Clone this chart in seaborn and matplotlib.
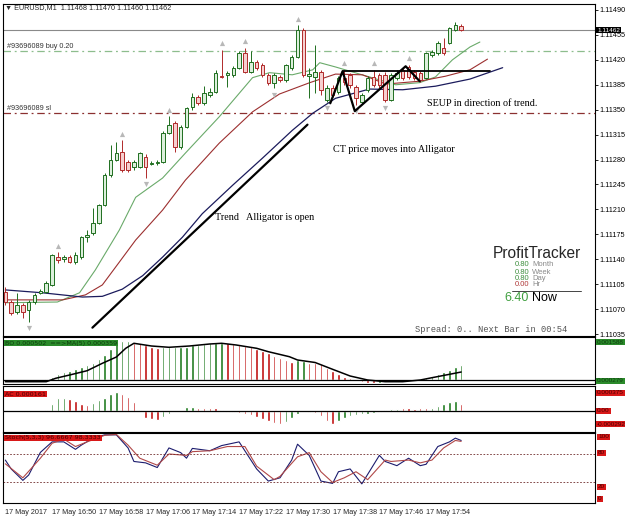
import matplotlib
matplotlib.use('Agg')
import matplotlib.pyplot as plt
import seaborn as sns
import numpy as np

# EURUSD M1 chart with Alligator, BO, AC and Stochastic panels (MT4 style)
sns.set_style('white')
plt.rcParams['font.family'] = ['DejaVu Sans']

# ---- candles, 17 May 2017 16:42 .. 18:00 ----
opens = [1.11094, 1.11080, 1.11066, 1.11076, 1.11069, 1.11080, 1.11093, 1.11094, 1.11104, 1.11143,
         1.11140, 1.11143, 1.11136, 1.11143, 1.11171, 1.11177, 1.11191, 1.11216, 1.11258, 1.11279,
         1.11291, 1.11277, 1.11270, 1.11270, 1.11284, 1.11274, 1.11275, 1.11277, 1.11317, 1.11331,
         1.11298, 1.11326, 1.11354, 1.11368, 1.11359, 1.11371, 1.11375, 1.11397, 1.11399, 1.11399,
         1.11409, 1.11430, 1.11403, 1.11417, 1.11413, 1.11399, 1.11388, 1.11396, 1.11392, 1.11409,
         1.11424, 1.11462, 1.11397, 1.11396, 1.11403, 1.11364, 1.11380, 1.11375, 1.11395, 1.11399,
         1.11382, 1.11361, 1.11378, 1.11396, 1.11399, 1.11399, 1.11364, 1.11395, 1.11406, 1.11410,
         1.11403, 1.11402, 1.11395, 1.11427, 1.11430, 1.11437, 1.11444, 1.11462, 1.11468]
closes = [1.11080, 1.11065, 1.11076, 1.11066, 1.11080, 1.11090, 1.11095, 1.11107, 1.11146, 1.11139,
          1.11143, 1.11136, 1.11146, 1.11171, 1.11174, 1.11191, 1.11216, 1.11258, 1.11279, 1.11289,
          1.11265, 1.11265, 1.11277, 1.11289, 1.11270, 1.11275, 1.11277, 1.11317, 1.11329, 1.11298,
          1.11326, 1.11352, 1.11368, 1.11359, 1.11373, 1.11375, 1.11402, 1.11396, 1.11402, 1.11409,
          1.11430, 1.11403, 1.11417, 1.11409, 1.11399, 1.11388, 1.11399, 1.11392, 1.11413, 1.11424,
          1.11462, 1.11399, 1.11400, 1.11403, 1.11378, 1.11380, 1.11371, 1.11395, 1.11389, 1.11385,
          1.11366, 1.11371, 1.11395, 1.11385, 1.11385, 1.11364, 1.11399, 1.11402, 1.11395, 1.11396,
          1.11395, 1.11392, 1.11430, 1.11431, 1.11444, 1.11430, 1.11465, 1.11469, 1.11462]
highs = [1.11101, 1.11083, 1.11093, 1.11079, 1.11083, 1.11093, 1.11098, 1.11110, 1.11147, 1.11150,
         1.11146, 1.11146, 1.11150, 1.11173, 1.11181, 1.11212, 1.11218, 1.11261, 1.11300, 1.11305,
         1.11307, 1.11279, 1.11279, 1.11291, 1.11288, 1.11278, 1.11279, 1.11320, 1.11341, 1.11334,
         1.11329, 1.11354, 1.11373, 1.11371, 1.11383, 1.11380, 1.11406, 1.11434, 1.11404, 1.11411,
         1.11432, 1.11437, 1.11432, 1.11420, 1.11416, 1.11402, 1.11402, 1.11399, 1.11414, 1.11427,
         1.11469, 1.11465, 1.11409, 1.11441, 1.11406, 1.11385, 1.11385, 1.11397, 1.11406, 1.11402,
         1.11385, 1.11373, 1.11397, 1.11406, 1.11402, 1.11403, 1.11402, 1.11406, 1.11409, 1.11413,
         1.11406, 1.11404, 1.11431, 1.11434, 1.11446, 1.11451, 1.11466, 1.11473, 1.11470]
lows = [1.11076, 1.11062, 1.11063, 1.11058, 1.11052, 1.11077, 1.11091, 1.11093, 1.11103, 1.11135,
        1.11136, 1.11135, 1.11133, 1.11141, 1.11164, 1.11174, 1.11190, 1.11215, 1.11255, 1.11278,
        1.11263, 1.11263, 1.11265, 1.11268, 1.11254, 1.11272, 1.11272, 1.11275, 1.11316, 1.11291,
        1.11295, 1.11324, 1.11350, 1.11357, 1.11357, 1.11368, 1.11373, 1.11395, 1.11382, 1.11396,
        1.11407, 1.11402, 1.11402, 1.11406, 1.11396, 1.11385, 1.11380, 1.11389, 1.11389, 1.11406,
        1.11423, 1.11396, 1.11366, 1.11373, 1.11371, 1.11361, 1.11368, 1.11372, 1.11385, 1.11380,
        1.11357, 1.11358, 1.11375, 1.11382, 1.11380, 1.11361, 1.11362, 1.11392, 1.11392, 1.11393,
        1.11392, 1.11389, 1.11393, 1.11424, 1.11427, 1.11427, 1.11442, 1.11461, 1.11460]

# Alligator lines (bar index, price)
jaw_x = [0, 6.3, 13.2, 16.6, 20.0, 23.5, 26.9, 30.3, 33.7, 38.9, 44.0, 49.1, 52.6, 56.5, 62.3, 68.0, 73.6, 79.5, 85.1]
jaw_y = [1.11097, 1.11093, 1.11087, 1.11088, 1.11098, 1.11117, 1.11143, 1.11171, 1.11204, 1.11244,
         1.11282, 1.11321, 1.11345, 1.11366, 1.11379, 1.11378, 1.11383, 1.11393, 1.11409]
teeth_x = [0, 9.8, 13.7, 16.6, 19.5, 22.3, 26.9, 30.8, 36.6, 42.3, 46.9, 52.1, 56.5, 61.1, 65.1, 70.9, 75.3, 79.5, 82.5]
teeth_y = [1.11083, 1.11083, 1.11090, 1.11104, 1.11136, 1.11167, 1.11209, 1.11251, 1.11303, 1.11347,
           1.11372, 1.11388, 1.11400, 1.11399, 1.11386, 1.11390, 1.11397, 1.11406, 1.11421]
lips_x = [0, 8.9, 12.7, 15.4, 19.5, 22.3, 26.9, 30.8, 36.6, 42.3, 45.2, 49.1, 52.6, 53.8, 56.5, 62.3,
          66.8, 70.9, 73.6, 76.5, 79.5, 81.2]
lips_y = [1.11079, 1.11080, 1.11093, 1.11125, 1.11181, 1.11227, 1.11254, 1.11289, 1.11340, 1.11395,
          1.11402, 1.11399, 1.11406, 1.11416, 1.11410, 1.11396, 1.11385, 1.11388, 1.11396, 1.11420,
          1.11438, 1.11445]

frac_up = [9, 20, 28, 37, 41, 50, 58, 63, 69]
frac_dn = [4, 24, 46, 55, 60, 65]

# hand-drawn objects
trend_x = [14.9, 51.7]
trend_y = [1.11044, 1.11329]
zig_x = [55.6, 57.7, 59.8, 68.5, 70.9]
zig_y = [1.11359, 1.11404, 1.11348, 1.11411, 1.11390]
range_x = [57.7, 82.9]
range_y = [1.11404, 1.11404]
bid_level = 1.11462
buy_level = 1.11432
sl_level = 1.11345
price_ticks = [1.11035, 1.11070, 1.11105, 1.11140, 1.11175, 1.11210, 1.11245, 1.11280,
               1.11315, 1.11350, 1.11385, 1.11420, 1.11455, 1.11490]

# BO histogram (x1e-6) and its MA(5)
bo_vals = [-84, -84, -84, -84, -84, -84, -42, 42, 138, 238, 322, 389, 447, 531, 627, 723, 865, 1045,
           1283, 1559, 1630, 1643, 1559, 1534, 1463, 1392, 1325, 1367, 1367, 1367, 1392, 1392, 1450,
           1476, 1505, 1534, 1559, 1559, 1534, 1505, 1476, 1421, 1367, 1296, 1225, 1116, 1016, 907,
           836, 765, 836, 794, 711, 711, 656, 502, 376, 251, 125, 71, 21, -84, -125, -125, -125, -84,
           -84, -84, -42, 0, 21, 42, 84, 167, 251, 334, 418, 543, 627]
bo_cols = ("rrgrgrg" "ggggggggggggggg" "rrrrr" "ggggggggggg" "rrrrrrrrrrrr" "gg"
           "rrrrrrrrr" "rrr" "gggggg" "ggggggggg")
sig_x = [0, 7, 8.6, 11, 14, 16.6, 19, 20.6, 22, 25, 28, 31.5, 35, 37, 39.5, 43, 45, 48.6, 50, 53,
         56, 59, 62, 65, 68, 71, 73, 76, 78]
sig_y = [-71, -71, 71, 209, 389, 698, 961, 1325, 1534, 1421, 1367, 1421, 1505, 1534, 1463, 1325,
         1183, 974, 836, 732, 447, 167, 0, -71, -71, 0, 96, 238, 334]

# AC histogram (x1e-6)
ac_vals = [15, -7, -7, -15, -15, -7, 7, 22, 161, 285, 285, 256, 212, 161, 139, 183, 234, 285, 380,
           416, 380, 307, 197, 29, -146, -183, -197, -124, -58, 0, 7, 88, 88, 58, 58, 58, 58, 29,
           -22, -29, -37, -58, -88, -131, -183, -219, -256, -277, -234, -146, -73, -7, -29, -37,
           -110, -219, -292, -219, -146, -110, -88, -73, -58, -44, -22, 15, 37, 51, 58, 58, 51, 58,
           58, 73, 102, 146, 190, 219, 161]
ac_cols = ("grrrrggg" "ggg" "rrrr" "ggggg" "rrrrrrr" "gggggg" "rrrrrrrrrrrrrrr" "gggg"
           "rrrrr" "ggggggggggg" "rrrrr" "ggggg" "r")

# Stochastic main / signal
k_x = [0, 1, 3, 4, 6, 8, 10, 12, 13, 15, 17, 19, 21, 22, 24, 26, 28, 30, 31, 32, 35, 37, 40, 43,
       45, 47, 49, 50, 52, 54, 56, 57, 59, 61, 64, 65, 67, 69, 71, 72, 74, 76, 77, 78]
k_y = [68, 49, 24.5, 36, 84.5, 107, 107, 91, 100, 115, 122, 122, 94, 65, 62, 52, 94, 84, 72, 93,
       88, 99, 107, 49, 23, 30, 68, 102, 78, 23, 18, 43, 49, 17, 78, 65, 56, 72, 56, 59, 97, 107,
       115, 110]
d_x = [0, 3, 6, 8, 10, 12, 14, 17, 19, 21, 23, 25, 26, 28, 31, 32, 35, 38, 41, 43, 46, 47, 50, 52,
       54, 56, 58, 60, 62, 65, 66, 69, 71, 73, 75, 77, 78]
d_y = [60, 30, 72, 104, 113, 97, 107, 121, 123, 100, 72, 62, 57, 81, 78, 86, 88, 97, 97, 55, 26, 33,
       75, 84, 43, 20, 30, 43, 26, 68, 65, 68, 62, 68, 94, 110, 108]

time_ticks = [0, 8, 16, 24, 32, 40, 48, 56, 64, 72]
time_labels = ['17 May 2017', '17 May 16:50', '17 May 16:58', '17 May 17:06', '17 May 17:14',
               '17 May 17:22', '17 May 17:30', '17 May 17:38', '17 May 17:46', '17 May 17:54']

W, H = 625, 522
def fx(x):
    return x / W
def fy(y):
    return 1 - y / H

fig = plt.figure(figsize=(6.25, 5.22), dpi=100)
xlim = (-0.4, 100.9)
small = 'Liberation Sans'

def panel(top, bottom):
    ax = fig.add_axes([fx(3), fy(bottom), fx(595) - fx(3), (bottom - top) / H])
    ax.set_xlim(*xlim)
    ax.set_xticks([])
    ax.set_yticks([])
    for s in ax.spines.values():
        s.set_color('black')
        s.set_linewidth(0.8)
    return ax

ax = panel(4, 336)
ax1 = panel(337, 384)
ax2 = panel(386, 432)
ax3 = panel(433, 503)

# ---- main price chart ----
idx = np.arange(len(opens))
o, c = np.array(opens), np.array(closes)
up = c >= o
edge = np.where(up, '#1f6e1f', '#b02a2a')
fill = np.where(up, '#dcefdc', '#f6d0d0')
ax.vlines(idx, lows, highs, colors=edge, lw=0.7, zorder=3)
ax.bar(idx, np.maximum(np.abs(c - o), 0.000012), bottom=np.minimum(o, c), width=0.6,
       color=fill, edgecolor=edge, linewidth=0.7, zorder=4)

sns.lineplot(x=lips_x, y=lips_y, ax=ax, color='#6aaa6a', lw=0.8, zorder=2)
sns.lineplot(x=teeth_x, y=teeth_y, ax=ax, color='#9c2f2f', lw=0.8, zorder=2)
sns.lineplot(x=jaw_x, y=jaw_y, ax=ax, color='#1b1b5c', lw=0.9, zorder=2)

hi = np.array(highs)
lo = np.array(lows)
ax.scatter(frac_up, hi[frac_up] + 0.00009, marker='^', s=14, color='#b8b8b8', zorder=5, lw=0)
ax.scatter(frac_dn, lo[frac_dn] - 0.00009, marker='v', s=14, color='#b8b8b8', zorder=5, lw=0)

ax.axhline(bid_level, color='#8a8a8a', lw=0.8, zorder=1)
ax.axhline(buy_level, color='#8dbd8d', lw=0.9, dashes=(6, 3, 1.5, 3), zorder=1)
ax.axhline(sl_level, color='#8b3030', lw=0.9, dashes=(6, 3, 1.5, 3), zorder=1)

ax.plot(trend_x, trend_y, color='black', lw=1.6, zorder=6)
ax.plot(zig_x, zig_y, color='black', lw=1.6, zorder=6)
ax.plot(range_x, range_y, color='black', lw=1.3, zorder=6)

ax.set_ylim(1.110323, 1.114984)
ax.yaxis.tick_right()
ax.set_yticks(price_ticks)
ax.set_yticklabels([f'{t:.5f}' for t in price_ticks], family=small)
ax.tick_params(axis='y', labelsize=5.2, length=2, width=0.6, pad=1.5, colors='black')
ax.set_xlabel('')
ax.set_ylabel('')

# ---- BO panel ----
ax1.bar(idx, bo_vals, width=0.42, color=['#1e7b1e' if k == 'g' else '#c01010' for k in bo_cols])
ax1.axhline(0, color='black', lw=0.9)
sns.lineplot(x=sig_x, y=sig_y, ax=ax1, color='black', lw=1.1)
ax1.set_ylim(-167, 1797)
ax1.set_xlim(*xlim)
ax1.set_xlabel('')
ax1.set_ylabel('')

# ---- AC panel ----
ax2.bar(idx, ac_vals, width=0.42, color=['#1e7b1e' if k == 'g' else '#c01010' for k in ac_cols])
ax2.axhline(0, color='black', lw=0.9)
ax2.set_ylim(-460, 548)

# ---- Stochastic panel ----
sns.lineplot(x=k_x, y=k_y, ax=ax3, color='#1c1c6e', lw=0.8)
sns.lineplot(x=d_x, y=d_y, ax=ax3, color='#b04848', lw=0.8)
for lvl in (80, 20):
    ax3.axhline(lvl, color='#6e2a2a', lw=0.6, dashes=(2, 2))
ax3.set_ylim(-24, 126)
ax3.set_xlim(*xlim)
ax3.set_xlabel('')
ax3.set_ylabel('')
ax3.set_xticks(time_ticks)
ax3.set_xticklabels(time_labels, family=small)
ax3.tick_params(axis='x', labelsize=5.2, length=2.5, width=0.6, pad=2)
for lbl in ax3.get_xticklabels():
    lbl.set_ha('left')

# ---- text overlays ----
def label(x, y, s, **kw):
    fig.text(fx(x), fy(y), s, va='center', **kw)

label(5, 8, '\u25bc EURUSD,M1  1.11468 1.11470 1.11460 1.11462', fontsize=5.2,
      family=['Liberation Sans', 'DejaVu Sans'])
label(7, 47, '#93696089 buy 0.20', fontsize=5.2, family=small, color='#333333')
label(7, 108, '#93696089 sl', fontsize=5.2, family=small, color='#333333')
serif = dict(family='Liberation Serif', fontsize=7.3, color='black')
label(427, 103, 'SEUP in direction of trend.', **serif)
label(333, 150, 'CT price moves into Alligator', **serif)
label(215, 218, 'Trend   Alligator is open', **serif)

sans = 'Liberation Sans'
label(581, 254, 'ProfitTracker', fontsize=11.2, family=sans, ha='right')
for yy, num, word, col in [(265, '0.80', 'Month', '#3f8f3f'), (272, '0.80', 'Week', '#3f8f3f'),
                           (279, '0.80', 'Day', '#3f8f3f'), (285, '0.00', 'Hr', '#b03a3a')]:
    label(529, yy, num, fontsize=5.5, family=sans, color=col, ha='right')
    label(532, yy, word, fontsize=5.5, family=sans, color='#8a8a8a')
fig.add_artist(plt.Line2D([fx(512), fx(581)], [fy(291), fy(291)], color='#444444', lw=0.7))
label(529, 298, '6.40', fontsize=9, family=sans, color='#3f9f3f', ha='right')
label(532, 298, 'Now', fontsize=9, family=sans, color='black')
label(415, 329, 'Spread: 0.. Next Bar in 00:54', fontsize=6.3, family='Liberation Mono',
      color='#555555')

box = lambda fc: dict(boxstyle='square,pad=0.15', fc=fc, ec='none')
rl = dict(fontsize=4.6, family=small)
label(597, 30, '1.11462', color='white', bbox=box('black'), **rl)
label(5, 343, 'BO 0.000502  ==>MA(5) 0.000359', fontsize=4.6, color='#0d3d0d', bbox=box('#2a8a2a'))
label(597, 342, '0.001588', color='#0d3d0d', bbox=box('#2a8a2a'), **rl)
label(597, 381, '0.000279', color='#0d3d0d', bbox=box('#2a8a2a'), **rl)
label(5, 394, 'AC 0.000161', fontsize=4.6, color='#4a0000', bbox=box('#d81818'))
label(597, 393, '0.000375', color='#4a0000', bbox=box('#d81818'), **rl)
label(597, 411, '0.00', color='#4a0000', bbox=box('#d81818'), **rl)
label(597, 424, '-0.000292', color='#4a0000', bbox=box('#d81818'), **rl)
label(5, 438, 'Stoch(5,3,3) 96.6667 98.3333', fontsize=4.6, color='#4a0000', bbox=box('#d81818'))
label(598, 437, '100', color='#4a0000', bbox=box('#d81818'), **rl)
label(598, 453, '80', color='#4a0000', bbox=box('#d81818'), **rl)
label(598, 487, '20', color='#4a0000', bbox=box('#d81818'), **rl)
label(598, 499, '0', color='#4a0000', bbox=box('#d81818'), **rl)

fig.savefig('out.png', dpi=100)
